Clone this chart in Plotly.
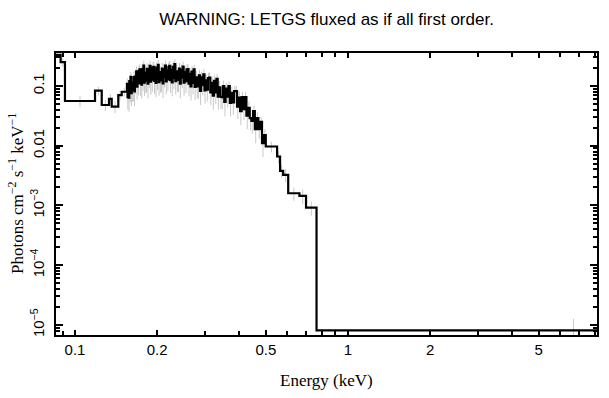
import plotly.graph_objects as go
import numpy as np

title_text = "WARNING: LETGS fluxed as if all first order."
x_title = "Energy (keV)"
y_title = "Photons cm<sup>−2</sup> s<sup>−1</sup> keV<sup>−1</sup>"

# ---- data: bin lower edges (keV), flux, 1-sigma errors ----
edges_low = [0.080, 0.0886, 0.0919, 0.1184, 0.1253, 0.1332, 0.1363, 0.1441, 0.1483]
flux_low = [0.33, 0.25, 0.056, 0.0835, 0.048, 0.061, 0.045, 0.070, 0.080]
err_low = [0.05, 0.04, 0.012, 0.014, 0.010, 0.012, 0.010, 0.012, 0.013]

edges_dense = [
    0.15498, 0.15575, 0.15654, 0.15734, 0.15814, 0.15895, 0.15977, 0.16060, 0.16143, 0.16228,
    0.16313, 0.16399, 0.16487, 0.16575, 0.16664, 0.16754, 0.16845, 0.16937, 0.17030, 0.17124,
    0.17219, 0.17316, 0.17413, 0.17511, 0.17611, 0.17711, 0.17813, 0.17916, 0.18020, 0.18126,
    0.18232, 0.18340, 0.18449, 0.18560, 0.18672, 0.18785, 0.18899, 0.19015, 0.19133, 0.19252,
    0.19372, 0.19494, 0.19617, 0.19742, 0.19869, 0.19997, 0.20127, 0.20258, 0.20391, 0.20526,
    0.20663, 0.20802, 0.20943, 0.21085, 0.21229, 0.21376, 0.21524, 0.21675, 0.21827, 0.21982,
    0.22139, 0.22299, 0.22460, 0.22624, 0.22790, 0.22959, 0.23131, 0.23305, 0.23481, 0.23660,
    0.23842, 0.24027, 0.24215, 0.24406, 0.24599, 0.24796, 0.24996, 0.25199, 0.25406, 0.25616,
    0.25829, 0.26046, 0.26267, 0.26491, 0.26720, 0.26952, 0.27189, 0.27429, 0.27674, 0.27923,
    0.28177, 0.28436, 0.28699, 0.28967, 0.29241, 0.29519, 0.29803, 0.30092, 0.30387, 0.30688,
    0.30995, 0.31308, 0.31628, 0.31954, 0.32286, 0.32626, 0.32973, 0.33328, 0.33690, 0.34060,
    0.34439, 0.34826, 0.35222, 0.35626, 0.36041, 0.36465, 0.36899, 0.37343, 0.37799, 0.38265,
    0.38744, 0.39234, 0.39737, 0.40253, 0.40783, 0.41327, 0.41885, 0.42459, 0.43049, 0.43655,
    0.44279, 0.44920, 0.45581, 0.46261, 0.46962, 0.47685, 0.48430, 0.49198, 0.49992]
flux_dense = [
    0.108, 0.065, 0.099, 0.064, 0.120, 0.081, 0.142, 0.076, 0.114, 0.086,
    0.088, 0.141, 0.081, 0.143, 0.110, 0.175, 0.097, 0.151, 0.110, 0.178,
    0.189, 0.111, 0.166, 0.105, 0.192, 0.128, 0.219, 0.114, 0.168, 0.123,
    0.124, 0.194, 0.109, 0.186, 0.140, 0.217, 0.118, 0.178, 0.127, 0.202,
    0.209, 0.121, 0.178, 0.112, 0.202, 0.132, 0.225, 0.116, 0.171, 0.124,
    0.126, 0.196, 0.110, 0.188, 0.141, 0.220, 0.119, 0.181, 0.129, 0.204,
    0.216, 0.125, 0.184, 0.115, 0.208, 0.136, 0.232, 0.120, 0.176, 0.128,
    0.126, 0.196, 0.109, 0.186, 0.138, 0.211, 0.114, 0.170, 0.120, 0.187,
    0.192, 0.109, 0.159, 0.098, 0.174, 0.112, 0.189, 0.096, 0.139, 0.099,
    0.098, 0.150, 0.083, 0.139, 0.103, 0.157, 0.084, 0.124, 0.087, 0.135,
    0.138, 0.078, 0.113, 0.069, 0.122, 0.078, 0.131, 0.066, 0.095, 0.066,
    0.065, 0.099, 0.054, 0.090, 0.066, 0.099, 0.052, 0.077, 0.053, 0.082,
    0.082, 0.045, 0.064, 0.038, 0.065, 0.041, 0.065, 0.032, 0.043, 0.029,
    0.026, 0.038, 0.019, 0.029, 0.019, 0.025, 0.011, 0.015]
err_dense = [
    0.025, 0.025, 0.026, 0.027, 0.028, 0.028, 0.029, 0.030, 0.031, 0.032,
    0.033, 0.034, 0.035, 0.036, 0.037, 0.037, 0.038, 0.039, 0.040, 0.041,
    0.042, 0.043, 0.043, 0.044, 0.044, 0.045, 0.045, 0.046, 0.046, 0.046,
    0.047, 0.047, 0.047, 0.047, 0.047, 0.047, 0.047, 0.047, 0.047, 0.047,
    0.047, 0.047, 0.047, 0.047, 0.047, 0.047, 0.047, 0.047, 0.047, 0.047,
    0.047, 0.047, 0.047, 0.047, 0.047, 0.047, 0.047, 0.047, 0.047, 0.047,
    0.048, 0.048, 0.048, 0.048, 0.048, 0.048, 0.048, 0.048, 0.048, 0.048,
    0.047, 0.047, 0.047, 0.046, 0.046, 0.045, 0.045, 0.044, 0.044, 0.043,
    0.043, 0.042, 0.041, 0.041, 0.040, 0.040, 0.039, 0.038, 0.038, 0.037,
    0.037, 0.036, 0.035, 0.035, 0.034, 0.034, 0.033, 0.032, 0.032, 0.031,
    0.031, 0.030, 0.029, 0.029, 0.028, 0.028, 0.027, 0.026, 0.026, 0.025,
    0.024, 0.024, 0.023, 0.023, 0.022, 0.021, 0.021, 0.020, 0.020, 0.019,
    0.018, 0.017, 0.017, 0.016, 0.015, 0.014, 0.014, 0.013, 0.012, 0.011,
    0.010, 0.009, 0.008, 0.007, 0.006, 0.005, 0.0045, 0.004]

edges_high = [0.49992, 0.550, 0.564, 0.579, 0.604, 0.664, 0.702, 0.767]
flux_high = [0.0097, 0.0066, 0.0038, 0.00325, 0.0016, 0.00145, 0.00092, 8.1e-6]
err_high = [0.002, 0.0015, 0.0009, 0.0008, 0.0004, 0.0004, 0.00025, 4.6e-6]
last_edge = 9.0
floor_err_energy = 6.7

x_tick_vals = [0.1, 0.2, 0.5, 1, 2, 5]
x_tick_text = ["0.1", "0.2", "0.5", "1", "2", "5"]
y_tick_vals = [1e-1, 1e-2, 1e-3, 1e-4, 1e-5]
y_tick_text = ["0.1", "0.01", "10<sup>−3</sup>", "10<sup>−4</sup>", "10<sup>−5</sup>"]

# ---- assemble ----
edges = edges_low + edges_dense[:-1] + edges_high + [last_edge]
flux = flux_low + flux_dense + flux_high
errs = err_low + err_dense + err_high
assert len(edges) == len(flux) + 1 and len(errs) == len(flux)

centers = [np.sqrt(edges[i] * edges[i + 1]) for i in range(len(flux))]
centers[-1] = floor_err_energy

x_minor = [0.09, 0.3, 0.4, 0.6, 0.7, 0.8, 0.9, 3, 4, 6, 7, 8]
y_minor = [m * 10.0 ** d for d in range(-6, 0) for m in range(2, 10)]

fig = go.Figure()
fig.add_trace(go.Scatter(
    x=centers, y=flux, mode="markers",
    marker=dict(size=1, color="rgba(0,0,0,0)"),
    error_y=dict(type="data", array=errs, visible=True, color="#c8c8c8", thickness=1, width=0),
    hoverinfo="skip", showlegend=False,
))
fig.add_trace(go.Scatter(
    x=edges, y=flux + [flux[-1]], mode="lines",
    line=dict(shape="hv", color="black", width=2.2),
    showlegend=False,
))

axis_common = dict(
    showline=True, linecolor="black", linewidth=2, mirror="ticks",
    ticks="inside", tickcolor="black", tickwidth=1.5,
    showgrid=False, zeroline=False, automargin=False,
    tickfont=dict(family="Liberation Sans", size=15, color="black"),
)

fig.update_xaxes(
    type="log", range=[np.log10(0.0852), np.log10(8.17)],
    tickmode="array", tickvals=x_tick_vals, ticktext=x_tick_text, ticklen=5,
    minor=dict(tickmode="array", tickvals=x_minor, ticks="inside", ticklen=4,
               tickcolor="black", tickwidth=1.5, showgrid=False),
    **axis_common,
)
fig.update_yaxes(
    type="log", range=[np.log10(6.8e-6), np.log10(0.356)],
    tickmode="array", tickvals=y_tick_vals, ticktext=y_tick_text, ticklen=7,
    tickangle=-90, ticklabelstandoff=4,
    minor=dict(tickmode="array", tickvals=y_minor, ticks="inside", ticklen=4,
               tickcolor="black", tickwidth=1.5, showgrid=False),
    **axis_common,
)

fig.update_layout(
    width=609, height=398,
    margin=dict(l=56, r=12, t=53, b=63),
    paper_bgcolor="white", plot_bgcolor="white",
    title=dict(text=title_text, x=0.5, xref="paper", xanchor="center",
               y=1 - 19 / 398, yref="container", yanchor="middle",
               font=dict(family="Liberation Sans", size=17, color="black")),
    annotations=[
        dict(text=x_title, xref="paper", yref="paper", x=0.5, y=-(380 - 335) / 282,
             xanchor="center", yanchor="middle", showarrow=False,
             font=dict(family="Liberation Serif", size=17, color="black")),
        dict(text=y_title, xref="paper", yref="paper", x=(16 - 56) / 541, y=0.5,
             xanchor="center", yanchor="middle", showarrow=False, textangle=-90,
             font=dict(family="Liberation Serif", size=17, color="black")),
    ],
)

fig.write_html("out.html", config={"displayModeBar": False},
               post_script="document.body.style.margin='0';document.body.style.overflow='hidden';")
